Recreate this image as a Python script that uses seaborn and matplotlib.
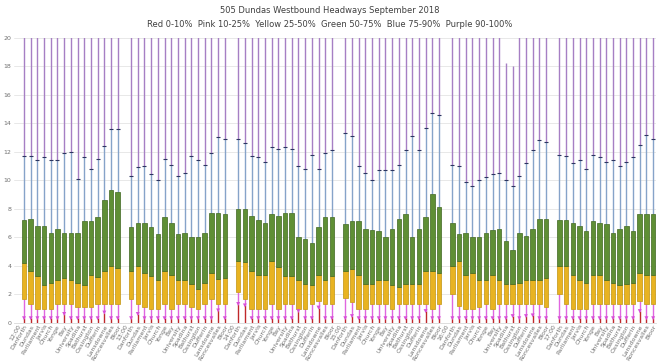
import numpy as np
import pandas as pd
import seaborn as sns
import matplotlib.pyplot as plt

# hour blocks and stops (westbound)
hours = ["12:00", "13:00", "14:00", "15:00", "16:00", "17:00"]
stops = ["Danforth", "Dundas", "Parliament", "Jarvis", "Church", "Yonge", "Bay",
         "University", "Spadina", "Bathurst", "Ossington", "Dufferin",
         "Lansdowne", "Roncesvalles", "Bloor"]

# percentiles of headway (minutes), one row per hour block, one value per stop
p10 = [
    [0.3, 0.3, 0.3, 0.3, 0.3, 0.3, 0.6, 0.3, 0.3, 0.3, 0.3, 0.3, 0.7, 0.3, 0.3],
    [0.3, 0.6, 0.3, 0.3, 0.3, 0.3, 0.3, 0.3, 0.3, 0.3, 0.3, 0.3, 0.3, 0.85, 0.3],
    [1.3, 1.2, 0.3, 0.3, 0.3, 0.3, 0.3, 0.3, 0.3, 0.8, 0.3, 0.3, 1.05, 0.3, 0.3],
    [0.3, 0.45, 0.3, 0.3, 0.3, 0.3, 0.3, 0.3, 0.3, 0.3, 0.3, 0.3, 0.8, 0.3, 0.3],
    [0.3, 0.3, 0.3, 0.3, 0.3, 0.3, 0.3, 0.3, 0.3, 0.45, 0.3, 0.45, 0.5, 0.3, 0.3],
    [0.3, 0.3, 0.3, 0.3, 0.3, 0.3, 0.3, 0.3, 0.3, 0.3, 0.3, 0.3, 0.8, 0.3, 0.3],
]
p25 = [
    [1.62, 1.27, 0.96, 0.96, 0.96, 1.27, 1.27, 1.27, 1.10, 1.10, 1.10, 1.27, 1.27, 1.27, 1.27],
    [1.62, 1.27, 1.10, 0.92, 0.92, 1.27, 0.92, 1.27, 1.27, 1.10, 0.92, 1.27, 1.62, 1.27, 1.27],
    [2.13, 1.62, 0.96, 0.92, 0.96, 1.27, 0.96, 1.27, 1.27, 0.96, 0.92, 1.27, 1.50, 1.27, 1.27],
    [1.74, 1.43, 0.96, 0.92, 1.27, 1.27, 1.27, 0.92, 1.27, 1.27, 1.27, 1.27, 1.27, 0.96, 1.27],
    [1.97, 1.15, 0.96, 0.92, 1.10, 1.27, 0.96, 1.27, 1.27, 1.27, 1.27, 1.27, 1.27, 1.27, 1.06],
    [1.97, 1.27, 0.96, 0.96, 0.96, 1.27, 1.27, 1.27, 1.27, 1.27, 1.27, 1.27, 1.50, 1.27, 1.27],
]
p50 = [
    [4.20, 3.64, 3.29, 2.63, 2.77, 3.00, 3.10, 3.00, 2.80, 2.63, 3.33, 3.17, 3.64, 3.95, 3.80],
    [3.61, 3.96, 3.50, 3.26, 2.98, 3.61, 3.31, 2.98, 2.98, 2.68, 2.32, 2.80, 3.45, 3.08, 3.10],
    [4.32, 4.25, 3.61, 3.31, 3.31, 4.32, 3.92, 3.26, 3.26, 2.98, 2.68, 2.61, 3.31, 2.98, 3.26],
    [3.61, 3.78, 3.31, 2.68, 2.68, 2.98, 2.98, 2.61, 2.51, 2.68, 2.68, 2.68, 3.61, 3.61, 3.50],
    [3.96, 4.32, 3.31, 3.50, 2.98, 2.98, 3.31, 2.98, 2.68, 2.68, 2.80, 2.98, 2.98, 2.98, 3.15],
    [3.96, 3.96, 3.31, 2.98, 2.80, 3.31, 3.31, 2.98, 2.80, 2.61, 2.68, 2.80, 3.50, 3.31, 3.31],
]
p75 = [
    [7.2, 7.3, 6.8, 6.8, 6.3, 6.6, 6.3, 6.3, 6.3, 7.1, 7.1, 7.4, 8.6, 9.3, 9.2],
    [6.7, 7.0, 7.0, 6.7, 6.2, 7.4, 7.0, 6.2, 6.3, 6.0, 6.0, 6.3, 7.7, 7.7, 7.6],
    [8.0, 8.0, 7.5, 7.2, 7.0, 7.6, 7.5, 7.7, 7.7, 6.0, 5.9, 5.6, 6.7, 7.4, 7.4],
    [6.9, 7.1, 7.1, 6.6, 6.5, 6.4, 6.0, 6.6, 7.3, 7.6, 6.0, 6.6, 7.4, 9.0, 8.1],
    [7.0, 6.2, 6.3, 6.0, 6.0, 6.3, 6.5, 6.6, 5.7, 5.1, 6.3, 6.1, 6.6, 7.3, 7.3],
    [7.2, 7.2, 7.0, 6.8, 6.4, 7.1, 7.0, 6.9, 6.3, 6.6, 6.8, 6.4, 7.6, 7.6, 7.6],
]
p90 = [
    [11.7, 11.7, 11.4, 11.6, 11.4, 11.4, 11.9, 12.0, 10.1, 11.6, 10.8, 11.5, 12.4, 13.6, 13.6],
    [10.3, 10.9, 11.0, 10.4, 10.0, 11.5, 11.1, 10.3, 10.5, 11.7, 11.4, 11.1, 11.9, 13.0, 12.9],
    [12.9, 12.6, 11.7, 11.6, 11.3, 12.3, 12.2, 12.3, 12.2, 11.0, 10.8, 11.8, 10.8, 11.9, 12.1],
    [13.3, 13.1, 11.0, 10.5, 10.0, 10.7, 10.7, 10.7, 11.1, 12.1, 13.1, 12.1, 13.7, 14.7, 14.6],
    [11.1, 11.0, 9.9, 9.6, 10.0, 10.2, 10.4, 10.5, 10.0, 9.6, 10.3, 11.2, 12.1, 12.8, 12.7],
    [11.8, 11.7, 11.2, 11.4, 10.8, 11.8, 11.6, 11.3, 11.4, 11.0, 11.3, 11.6, 12.5, 13.2, 12.9],
]
pmax = [
    [30] * 15,
    [30] * 15,
    [30] * 15,
    [30] * 15,
    [30, 30, 30, 30, 30, 30, 30, 30, 18.2, 18.0, 30, 30, 30, 30, 30],
    [30] * 15,
]

rows = []
for g, hr in enumerate(hours):
    for i, st in enumerate(stops):
        rows.append(dict(pos=g * 16 + i + 1,
                         p10=p10[g][i], p25=p25[g][i], p50=p50[g][i],
                         p75=p75[g][i], p90=p90[g][i], pmax=pmax[g][i]))
df = pd.DataFrame(rows)

# every hour block opens with an empty slot carrying the hour label
tick_pos = np.arange(len(hours) * 16)
tick_lab = [hours[k // 16] if k % 16 == 0 else stops[k % 16 - 1] for k in tick_pos]

sns.set_theme(style="whitegrid")
fig = plt.figure(figsize=(6.59, 3.64), dpi=100)
ax = fig.add_axes([0.0212, 0.114, 0.975, 0.782])

x = df["pos"].values
lw = 1.0
ax.vlines(x, 0, df["p10"], color="#c0282b", lw=lw, zorder=3)
ax.vlines(x, df["p10"], df["p25"], color="#e066e0", lw=lw, zorder=3)
ax.vlines(x, df["p75"], df["p90"], color="#86a3c9", lw=lw, zorder=3)
ax.vlines(x, df["p90"], df["pmax"], color="#a67fc4", lw=lw, zorder=3)
ax.bar(x, df["p50"] - df["p25"], bottom=df["p25"], width=0.68,
       color="#e8b321", edgecolor="#c29410", linewidth=0.5, zorder=4)
ax.bar(x, df["p75"] - df["p50"], bottom=df["p50"], width=0.68,
       color="#5f8f35", edgecolor="#3e6620", linewidth=0.5, zorder=4)
sns.scatterplot(x=x, y=df["p10"], marker="v", s=8, color="#d84fd8",
                edgecolor="none", ax=ax, zorder=5)
sns.scatterplot(x=x, y=df["p90"], marker="_", s=10, color="#2c3560",
                linewidth=0.8, ax=ax, zorder=5)

ax.set_xlim(-0.5, 95.5)
ax.set_ylim(0, 20)
ax.set_yticks(np.arange(0, 21, 2))
ax.set_xticks(tick_pos)
ax.set_xticklabels(tick_lab, rotation=60, ha="right", rotation_mode="anchor",
                   fontsize=4.5, color="#707070")
ax.tick_params(axis="y", labelsize=4.5, colors="#707070", pad=2, length=0)
ax.tick_params(axis="x", pad=1, length=0)
ax.grid(axis="x", visible=False)
ax.grid(axis="y", color="#e4e4e4", lw=0.6)
for s in ["top", "right", "left"]:
    ax.spines[s].set_visible(False)
ax.spines["bottom"].set_color("#d9d9d9")
ax.spines["bottom"].set_linewidth(0.6)
ax.set_xlabel("")
ax.set_ylabel("")

fig.text(0.5, 0.970, "505 Dundas Westbound Headways September 2018",
         ha="center", va="center", fontsize=6, color="#404040")
fig.text(0.5, 0.934, "Red 0-10%  Pink 10-25%  Yellow 25-50%  Green 50-75%  Blue 75-90%  Purple 90-100%",
         ha="center", va="center", fontsize=6, color="#404040")

fig.savefig("out.png", dpi=100)
